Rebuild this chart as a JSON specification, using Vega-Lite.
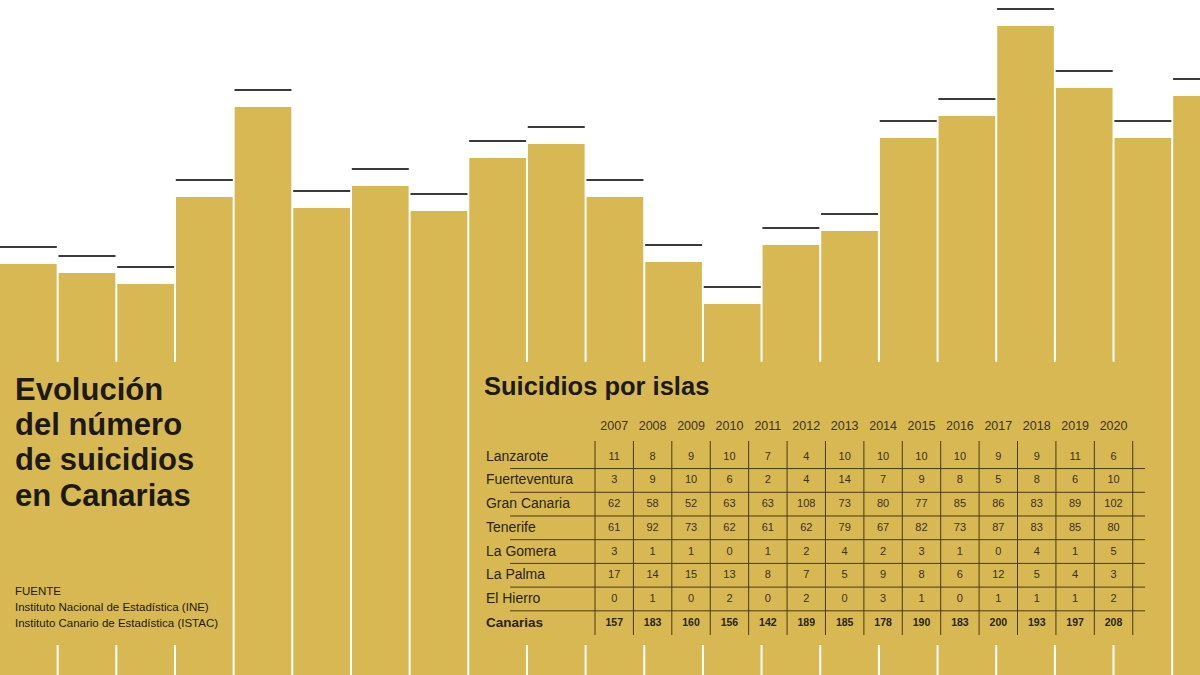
{
  "$schema": "https://vega.github.io/schema/vega-lite/v6.json",
  "width": 1200,
  "height": 675,
  "autosize": {"type": "fit", "contains": "padding"},
  "padding": 0,
  "background": "white",
  "config": {"view": {"stroke": null}, "font": "Liberation Sans", "axis": {"disable": true}},
  "datasets": {
    "barras": [
      {"barra": 1, "altura": 411, "marca": 428},
      {"barra": 2, "altura": 402, "marca": 419},
      {"barra": 3, "altura": 391, "marca": 408},
      {"barra": 4, "altura": 478, "marca": 495},
      {"barra": 5, "altura": 568, "marca": 585},
      {"barra": 6, "altura": 467, "marca": 484},
      {"barra": 7, "altura": 489, "marca": 506},
      {"barra": 8, "altura": 464, "marca": 481},
      {"barra": 9, "altura": 517, "marca": 534},
      {"barra": 10, "altura": 531, "marca": 548},
      {"barra": 11, "altura": 478, "marca": 495},
      {"barra": 12, "altura": 413, "marca": 430},
      {"barra": 13, "altura": 371, "marca": 388},
      {"barra": 14, "altura": 430, "marca": 447},
      {"barra": 15, "altura": 444, "marca": 461},
      {"barra": 16, "altura": 537, "marca": 554},
      {"barra": 17, "altura": 559, "marca": 576},
      {"barra": 18, "altura": 649, "marca": 666},
      {"barra": 19, "altura": 587, "marca": 604},
      {"barra": 20, "altura": 537, "marca": 554},
      {"barra": 21, "altura": 579, "marca": 596}
    ],
    "islas": [
      {"isla": "Lanzarote", "fila": 1},
      {"isla": "Fuerteventura", "fila": 2},
      {"isla": "Gran Canaria", "fila": 3},
      {"isla": "Tenerife", "fila": 4},
      {"isla": "La Gomera", "fila": 5},
      {"isla": "La Palma", "fila": 6},
      {"isla": "El Hierro", "fila": 7},
      {"isla": "Canarias", "fila": 8}
    ],
    "anios": [
      {"anio": 2007}, {"anio": 2008}, {"anio": 2009}, {"anio": 2010}, {"anio": 2011}, {"anio": 2012}, {"anio": 2013},
      {"anio": 2014}, {"anio": 2015}, {"anio": 2016}, {"anio": 2017}, {"anio": 2018}, {"anio": 2019}, {"anio": 2020}
    ],
    "columnas": [
      {"limite": 2006.5}, {"limite": 2007.5}, {"limite": 2008.5}, {"limite": 2009.5}, {"limite": 2010.5},
      {"limite": 2011.5}, {"limite": 2012.5}, {"limite": 2013.5}, {"limite": 2014.5}, {"limite": 2015.5},
      {"limite": 2016.5}, {"limite": 2017.5}, {"limite": 2018.5}, {"limite": 2019.5}, {"limite": 2020.5}
    ],
    "filas": [
      {"limite": 1.5}, {"limite": 2.5}, {"limite": 3.5}, {"limite": 4.5}, {"limite": 5.5}, {"limite": 6.5}, {"limite": 7.5}
    ],
    "suicidios": [
      {"isla": "Lanzarote", "anio": 2007, "valor": 11}, {"isla": "Lanzarote", "anio": 2008, "valor": 8}, {"isla": "Lanzarote", "anio": 2009, "valor": 9}, {"isla": "Lanzarote", "anio": 2010, "valor": 10}, {"isla": "Lanzarote", "anio": 2011, "valor": 7}, {"isla": "Lanzarote", "anio": 2012, "valor": 4}, {"isla": "Lanzarote", "anio": 2013, "valor": 10}, {"isla": "Lanzarote", "anio": 2014, "valor": 10}, {"isla": "Lanzarote", "anio": 2015, "valor": 10}, {"isla": "Lanzarote", "anio": 2016, "valor": 10}, {"isla": "Lanzarote", "anio": 2017, "valor": 9}, {"isla": "Lanzarote", "anio": 2018, "valor": 9}, {"isla": "Lanzarote", "anio": 2019, "valor": 11}, {"isla": "Lanzarote", "anio": 2020, "valor": 6},
      {"isla": "Fuerteventura", "anio": 2007, "valor": 3}, {"isla": "Fuerteventura", "anio": 2008, "valor": 9}, {"isla": "Fuerteventura", "anio": 2009, "valor": 10}, {"isla": "Fuerteventura", "anio": 2010, "valor": 6}, {"isla": "Fuerteventura", "anio": 2011, "valor": 2}, {"isla": "Fuerteventura", "anio": 2012, "valor": 4}, {"isla": "Fuerteventura", "anio": 2013, "valor": 14}, {"isla": "Fuerteventura", "anio": 2014, "valor": 7}, {"isla": "Fuerteventura", "anio": 2015, "valor": 9}, {"isla": "Fuerteventura", "anio": 2016, "valor": 8}, {"isla": "Fuerteventura", "anio": 2017, "valor": 5}, {"isla": "Fuerteventura", "anio": 2018, "valor": 8}, {"isla": "Fuerteventura", "anio": 2019, "valor": 6}, {"isla": "Fuerteventura", "anio": 2020, "valor": 10},
      {"isla": "Gran Canaria", "anio": 2007, "valor": 62}, {"isla": "Gran Canaria", "anio": 2008, "valor": 58}, {"isla": "Gran Canaria", "anio": 2009, "valor": 52}, {"isla": "Gran Canaria", "anio": 2010, "valor": 63}, {"isla": "Gran Canaria", "anio": 2011, "valor": 63}, {"isla": "Gran Canaria", "anio": 2012, "valor": 108}, {"isla": "Gran Canaria", "anio": 2013, "valor": 73}, {"isla": "Gran Canaria", "anio": 2014, "valor": 80}, {"isla": "Gran Canaria", "anio": 2015, "valor": 77}, {"isla": "Gran Canaria", "anio": 2016, "valor": 85}, {"isla": "Gran Canaria", "anio": 2017, "valor": 86}, {"isla": "Gran Canaria", "anio": 2018, "valor": 83}, {"isla": "Gran Canaria", "anio": 2019, "valor": 89}, {"isla": "Gran Canaria", "anio": 2020, "valor": 102},
      {"isla": "Tenerife", "anio": 2007, "valor": 61}, {"isla": "Tenerife", "anio": 2008, "valor": 92}, {"isla": "Tenerife", "anio": 2009, "valor": 73}, {"isla": "Tenerife", "anio": 2010, "valor": 62}, {"isla": "Tenerife", "anio": 2011, "valor": 61}, {"isla": "Tenerife", "anio": 2012, "valor": 62}, {"isla": "Tenerife", "anio": 2013, "valor": 79}, {"isla": "Tenerife", "anio": 2014, "valor": 67}, {"isla": "Tenerife", "anio": 2015, "valor": 82}, {"isla": "Tenerife", "anio": 2016, "valor": 73}, {"isla": "Tenerife", "anio": 2017, "valor": 87}, {"isla": "Tenerife", "anio": 2018, "valor": 83}, {"isla": "Tenerife", "anio": 2019, "valor": 85}, {"isla": "Tenerife", "anio": 2020, "valor": 80},
      {"isla": "La Gomera", "anio": 2007, "valor": 3}, {"isla": "La Gomera", "anio": 2008, "valor": 1}, {"isla": "La Gomera", "anio": 2009, "valor": 1}, {"isla": "La Gomera", "anio": 2010, "valor": 0}, {"isla": "La Gomera", "anio": 2011, "valor": 1}, {"isla": "La Gomera", "anio": 2012, "valor": 2}, {"isla": "La Gomera", "anio": 2013, "valor": 4}, {"isla": "La Gomera", "anio": 2014, "valor": 2}, {"isla": "La Gomera", "anio": 2015, "valor": 3}, {"isla": "La Gomera", "anio": 2016, "valor": 1}, {"isla": "La Gomera", "anio": 2017, "valor": 0}, {"isla": "La Gomera", "anio": 2018, "valor": 4}, {"isla": "La Gomera", "anio": 2019, "valor": 1}, {"isla": "La Gomera", "anio": 2020, "valor": 5},
      {"isla": "La Palma", "anio": 2007, "valor": 17}, {"isla": "La Palma", "anio": 2008, "valor": 14}, {"isla": "La Palma", "anio": 2009, "valor": 15}, {"isla": "La Palma", "anio": 2010, "valor": 13}, {"isla": "La Palma", "anio": 2011, "valor": 8}, {"isla": "La Palma", "anio": 2012, "valor": 7}, {"isla": "La Palma", "anio": 2013, "valor": 5}, {"isla": "La Palma", "anio": 2014, "valor": 9}, {"isla": "La Palma", "anio": 2015, "valor": 8}, {"isla": "La Palma", "anio": 2016, "valor": 6}, {"isla": "La Palma", "anio": 2017, "valor": 12}, {"isla": "La Palma", "anio": 2018, "valor": 5}, {"isla": "La Palma", "anio": 2019, "valor": 4}, {"isla": "La Palma", "anio": 2020, "valor": 3},
      {"isla": "El Hierro", "anio": 2007, "valor": 0}, {"isla": "El Hierro", "anio": 2008, "valor": 1}, {"isla": "El Hierro", "anio": 2009, "valor": 0}, {"isla": "El Hierro", "anio": 2010, "valor": 2}, {"isla": "El Hierro", "anio": 2011, "valor": 0}, {"isla": "El Hierro", "anio": 2012, "valor": 2}, {"isla": "El Hierro", "anio": 2013, "valor": 0}, {"isla": "El Hierro", "anio": 2014, "valor": 3}, {"isla": "El Hierro", "anio": 2015, "valor": 1}, {"isla": "El Hierro", "anio": 2016, "valor": 0}, {"isla": "El Hierro", "anio": 2017, "valor": 1}, {"isla": "El Hierro", "anio": 2018, "valor": 1}, {"isla": "El Hierro", "anio": 2019, "valor": 1}, {"isla": "El Hierro", "anio": 2020, "valor": 2},
      {"isla": "Canarias", "anio": 2007, "valor": 157}, {"isla": "Canarias", "anio": 2008, "valor": 183}, {"isla": "Canarias", "anio": 2009, "valor": 160}, {"isla": "Canarias", "anio": 2010, "valor": 156}, {"isla": "Canarias", "anio": 2011, "valor": 142}, {"isla": "Canarias", "anio": 2012, "valor": 189}, {"isla": "Canarias", "anio": 2013, "valor": 185}, {"isla": "Canarias", "anio": 2014, "valor": 178}, {"isla": "Canarias", "anio": 2015, "valor": 190}, {"isla": "Canarias", "anio": 2016, "valor": 183}, {"isla": "Canarias", "anio": 2017, "valor": 200}, {"isla": "Canarias", "anio": 2018, "valor": 193}, {"isla": "Canarias", "anio": 2019, "valor": 197}, {"isla": "Canarias", "anio": 2020, "valor": 208}
    ]
  },
  "layer": [
    {
      "data": {"name": "barras"},
      "layer": [
        {
          "mark": {"type": "bar", "color": "#D8B853", "clip": true},
          "encoding": {
            "x": {"field": "barra", "type": "ordinal", "axis": null,
                  "scale": {"type": "band", "range": [-1, 1230.86], "paddingInner": 0.0341, "paddingOuter": 0.01705}},
            "y": {"field": "altura", "type": "quantitative", "axis": null,
                  "scale": {"domain": [0, 675], "nice": false, "zero": true}}
          }
        },
        {
          "mark": {"type": "tick", "orient": "horizontal", "color": "#3a3a3a", "size": 57, "thickness": 2, "clip": true, "opacity": 1},
          "encoding": {
            "x": {"field": "barra", "type": "ordinal", "axis": null},
            "y": {"field": "marca", "type": "quantitative", "axis": null}
          }
        }
      ]
    },
    {
      "layer": [
        {
          "data": {"values": [{"panel": "titulo"}]},
          "mark": {"type": "rect", "color": "#D8B853"},
          "encoding": {
            "x": {"datum": 1991.1, "type": "quantitative", "axis": null,
                  "scale": {"domain": [1991.009, 2022.251], "nice": false, "zero": false}},
            "x2": {"datum": 1996.2},
            "y": {"datum": -3.0, "type": "quantitative", "axis": null,
                  "scale": {"domain": [-18.262, 10.207], "nice": false, "zero": false, "reverse": true}},
            "y2": {"datum": 8.94}
          }
        },
        {
          "data": {"values": [{"panel": "tabla"}]},
          "mark": {"type": "rect", "color": "#D8B853"},
          "encoding": {
            "x": {"datum": 2003.77, "type": "quantitative", "axis": null},
            "x2": {"datum": 2020.95},
            "y": {"datum": -3.0, "type": "quantitative", "axis": null},
            "y2": {"datum": 8.94}
          }
        },
        {
          "data": {"values": [{"texto": "Evolución\ndel número\nde suicidios\nen Canarias"}]},
          "mark": {"type": "text", "align": "left", "baseline": "alphabetic", "fontSize": 31, "fontWeight": "bold", "lineBreak": "\n", "lineHeight": 35.2, "color": "#1d1a16"},
          "encoding": {
            "x": {"datum": 1991.4, "type": "quantitative"},
            "y": {"datum": -1.391, "type": "quantitative"},
            "text": {"field": "texto"}
          }
        },
        {
          "data": {"values": [{"texto": "FUENTE\nInstituto Nacional de Estadística (INE)\nInstituto Canario de Estadística (ISTAC)"}]},
          "mark": {"type": "text", "align": "left", "baseline": "alphabetic", "fontSize": 11.5, "lineBreak": "\n", "lineHeight": 16.2, "color": "#1d1a16"},
          "encoding": {
            "x": {"datum": 1991.4, "type": "quantitative"},
            "y": {"datum": 6.833, "type": "quantitative"},
            "text": {"field": "texto"}
          }
        },
        {
          "data": {"values": [{"texto": "Suicidios por islas"}]},
          "mark": {"type": "text", "align": "left", "baseline": "alphabetic", "fontSize": 25.5, "fontWeight": "bold", "color": "#1d1a16"},
          "encoding": {
            "x": {"datum": 2003.61, "type": "quantitative"},
            "y": {"datum": -1.602, "type": "quantitative"},
            "text": {"field": "texto"}
          }
        },
        {
          "data": {"name": "columnas"},
          "mark": {"type": "rule", "color": "#4a3a14", "strokeWidth": 1},
          "encoding": {
            "x": {"field": "limite", "type": "quantitative"},
            "y": {"datum": 0.338, "type": "quantitative"},
            "y2": {"datum": 8.52}
          }
        },
        {
          "data": {"name": "filas"},
          "mark": {"type": "rule", "color": "#4a3a14", "strokeWidth": 1},
          "encoding": {
            "y": {"field": "limite", "type": "quantitative"},
            "x": {"datum": 2004.29, "type": "quantitative"},
            "x2": {"datum": 2020.82}
          }
        },
        {
          "data": {"name": "anios"},
          "mark": {"type": "text", "align": "center", "baseline": "middle", "fontSize": 12.5, "color": "#3d3322"},
          "encoding": {
            "x": {"field": "anio", "type": "quantitative"},
            "y": {"datum": -0.31, "type": "quantitative"},
            "text": {"field": "anio", "type": "nominal"}
          }
        },
        {
          "data": {"name": "islas"},
          "transform": [{"filter": "datum.isla !== 'Canarias'"}],
          "mark": {"type": "text", "align": "left", "baseline": "middle", "fontSize": 14, "color": "#2a2418"},
          "encoding": {
            "x": {"datum": 2003.66, "type": "quantitative"},
            "y": {"field": "fila", "type": "quantitative"},
            "text": {"field": "isla", "type": "nominal"}
          }
        },
        {
          "data": {"name": "islas"},
          "transform": [{"filter": "datum.isla === 'Canarias'"}],
          "mark": {"type": "text", "align": "left", "baseline": "middle", "fontSize": 13.5, "fontWeight": "bold", "color": "#2a2418"},
          "encoding": {
            "x": {"datum": 2003.66, "type": "quantitative"},
            "y": {"field": "fila", "type": "quantitative"},
            "text": {"field": "isla", "type": "nominal"}
          }
        },
        {
          "data": {"name": "suicidios"},
          "transform": [
            {"filter": "datum.isla !== 'Canarias'"},
            {"lookup": "isla", "from": {"data": {"name": "islas"}, "key": "isla", "fields": ["fila"]}}
          ],
          "mark": {"type": "text", "align": "center", "baseline": "middle", "fontSize": 11, "color": "#3b3020"},
          "encoding": {
            "x": {"field": "anio", "type": "quantitative"},
            "y": {"field": "fila", "type": "quantitative"},
            "text": {"field": "valor", "type": "quantitative"}
          }
        },
        {
          "data": {"name": "suicidios"},
          "transform": [
            {"filter": "datum.isla === 'Canarias'"},
            {"lookup": "isla", "from": {"data": {"name": "islas"}, "key": "isla", "fields": ["fila"]}}
          ],
          "mark": {"type": "text", "align": "center", "baseline": "middle", "fontSize": 10.5, "fontWeight": "bold", "color": "#2a2418"},
          "encoding": {
            "x": {"field": "anio", "type": "quantitative"},
            "y": {"field": "fila", "type": "quantitative"},
            "text": {"field": "valor", "type": "quantitative"}
          }
        }
      ]
    }
  ],
  "resolve": {"scale": {"x": "independent", "y": "independent"}}
}
